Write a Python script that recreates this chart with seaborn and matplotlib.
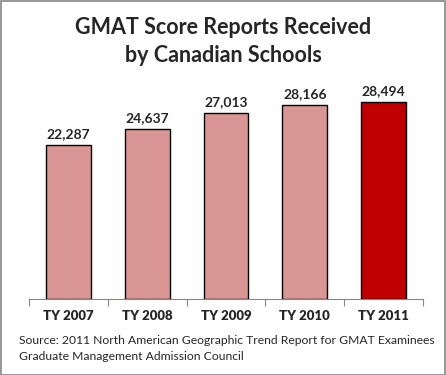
import numpy as np
import seaborn as sns
import matplotlib.pyplot as plt
import pandas as pd

years = ["TY 2007", "TY 2008", "TY 2009", "TY 2010", "TY 2011"]
reports = [22287, 24637, 27013, 28166, 28494]
bar_colors = ["#D99694", "#D99694", "#D99694", "#D99694", "#C00000"]

df = pd.DataFrame({"year": years, "reports": reports})

sns.set_style("white")
plt.rcParams["font.family"] = ["Lato", "DejaVu Sans"]

fig = plt.figure(figsize=(4.46, 3.75), dpi=100)
W, H = 446, 375
ax = fig.add_axes([29 / W, 1 - 299 / H, (423 - 29) / W, (299 - 92) / H])

sns.barplot(data=df, x="year", y="reports", hue="year", palette=bar_colors,
            saturation=1, legend=False, width=0.57, edgecolor="black",
            linewidth=1, ax=ax)

ax.set_ylim(0, 30000)
ax.set_xlim(-0.5, 4.5)
for i, v in enumerate(reports):
    ax.text(i, v + 700, f"{v:,}", ha="center", va="bottom",
            fontsize=10, fontweight="bold")

ax.set_xlabel("")
ax.set_ylabel("")
ax.set_yticks([])
ax.set_xticks(np.arange(-0.5, 5, 1), minor=False)
ax.set_xticklabels([])
ax.set_xticks(range(5), years, minor=True)
ax.tick_params(axis="x", which="major", length=5, color="#868686", direction="out", bottom=True)
ax.tick_params(axis="x", which="minor", length=0, labelsize=9.5, pad=8)
for lab in ax.get_xticklabels(minor=True):
    lab.set_fontweight("heavy")
for s in ["top", "left", "right"]:
    ax.spines[s].set_visible(False)
ax.spines["bottom"].set_color("#868686")

fig.text(0.5, 1 - 27 / H, "GMAT Score Reports Received", ha="center", va="center",
         fontsize=15.5, fontweight="bold")
fig.text(0.5, 1 - 55 / H, "by Canadian Schools", ha="center", va="center",
         fontsize=15.5, fontweight="bold")
fig.text(19 / W, 1 - 341 / H, "Source: 2011 North American Geographic Trend Report for GMAT Examinees",
         ha="left", va="center", fontsize=8.7)
fig.text(19 / W, 1 - 356 / H, "Graduate Management Admission Council",
         ha="left", va="center", fontsize=8.7)

border = plt.Rectangle((0.5 / W, 0.5 / H), 1 - 1.5 / W, 1 - 1.5 / H, transform=fig.transFigure,
                       fill=False, edgecolor="#868686", linewidth=1.2)
fig.patches.append(border)

fig.savefig("out.png", dpi=100)
